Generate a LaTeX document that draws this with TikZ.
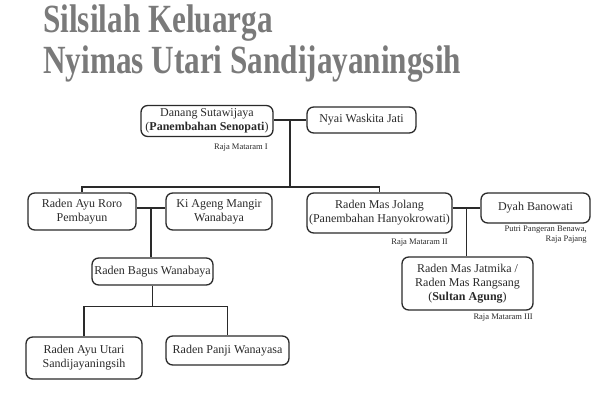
\documentclass[tikz,border=0pt]{standalone}
\usepackage{fontspec}
\setmainfont{Liberation Serif}
\newfontfamily\titlefont[FakeStretch=0.78]{Liberation Serif}
\usetikzlibrary{positioning,calc}

\definecolor{titlegray}{HTML}{7A7A7A}
\definecolor{linegray}{HTML}{2A2A2A}

\tikzset{
  person/.style={draw=linegray, line width=1pt, rounded corners=5pt, align=center,
    inner sep=1pt, font=\fontsize{9}{10.5}\selectfont, text=linegray},
  note/.style={font=\fontsize{6.4}{7.5}\selectfont, text=linegray, inner sep=0pt, align=right},
  link/.style={draw=linegray, line width=0.8pt}
}

\begin{document}
\begin{tikzpicture}[x=0.75pt,y=-0.75pt]
  \useasboundingbox (0,0) rectangle (600,400);

  % judul
  \node[anchor=west, text=titlegray, font=\titlefont\bfseries\fontsize{30}{32}\selectfont, inner sep=0pt] (judul1) at (43,23) {Silsilah Keluarga};
  \node[anchor=west, text=titlegray, font=\titlefont\bfseries\fontsize{30}{32}\selectfont, inner sep=0pt] (judul2) at (43,64) {Nyimas Utari Sandijayaningsih};

  % generasi pertama
  \node[person, minimum width=132*0.75pt, minimum height=31*0.75pt] (danang) at (207,121) {Danang Sutawijaya\\(\textbf{Panembahan Senopati})};
  \node[person, minimum width=109*0.75pt, minimum height=26*0.75pt] (nyai) at (361.5,120) {Nyai Waskita Jati};
  \node[note, anchor=north east] (raja1) at (268,144) {Raja Mataram I};

  % generasi kedua
  \node[person, minimum width=108*0.75pt, minimum height=37*0.75pt] (roro) at (82,211.5) {Raden Ayu Roro\\Pembayun};
  \node[person, minimum width=106*0.75pt, minimum height=37*0.75pt] (mangir) at (219,211.5) {Ki Ageng Mangir\\Wanabaya};
  \node[person, minimum width=145*0.75pt, minimum height=40*0.75pt] (jolang) at (379.5,213) {Raden Mas Jolang\\(Panembahan Hanyokrowati)};
  \node[person, minimum width=109*0.75pt, minimum height=30*0.75pt] (dyah) at (535.5,208) {Dyah Banowati};
  \node[note, anchor=north east] (raja2) at (448,239) {Raja Mataram II};
  \node[note, anchor=north east] (putri) at (587,226) {Putri Pangeran Benawa,\\Raja Pajang};

  % generasi ketiga
  \node[person, minimum width=121*0.75pt, minimum height=27*0.75pt] (bagus) at (152.5,271.5) {Raden Bagus Wanabaya};
  \node[person, minimum width=131*0.75pt, minimum height=53*0.75pt] (jatmika) at (467.5,283.5) {Raden Mas Jatmika /\\Raden Mas Rangsang\\(\textbf{Sultan Agung})};
  \node[note, anchor=north east] (raja3) at (533,314) {Raja Mataram III};

  % generasi keempat
  \node[person, minimum width=116*0.75pt, minimum height=42*0.75pt] (utari) at (84,358) {Raden Ayu Utari\\Sandijayaningsih};
  \node[person, minimum width=123*0.75pt, minimum height=29*0.75pt] (panji) at (227.5,350.5) {Raden Panji Wanayasa};

  % garis keturunan
  \draw[link] (danang.east |- nyai.west) -- (nyai.west);
  \coordinate (m1) at ($(danang.east |- nyai.west)!0.5!(nyai.west)$);
  \draw[link] (m1) -- ++(0,67) coordinate (b1);
  \draw[link] (roro.north) |- (b1) -| (jolang.north);

  \draw[link] (roro.east |- 0,208) -- (mangir.west |- 0,208);
  \coordinate (m2) at ($(roro.east |- 0,208)!0.5!(mangir.west |- 0,208)$);
  \draw[link] (m2) -- (m2 |- bagus.north);

  \draw[link] (jolang.east |- dyah.west) -- (dyah.west);
  \coordinate (m3) at ($(jolang.east |- dyah.west)!0.5!(dyah.west)$);
  \draw[link] (m3) -- (m3 |- jatmika.north);

  \draw[link] (bagus.south) -- ++(0,21) coordinate (b2);
  \draw[link] (utari.north) |- (b2) -| (panji.north);
\end{tikzpicture}
\end{document}
